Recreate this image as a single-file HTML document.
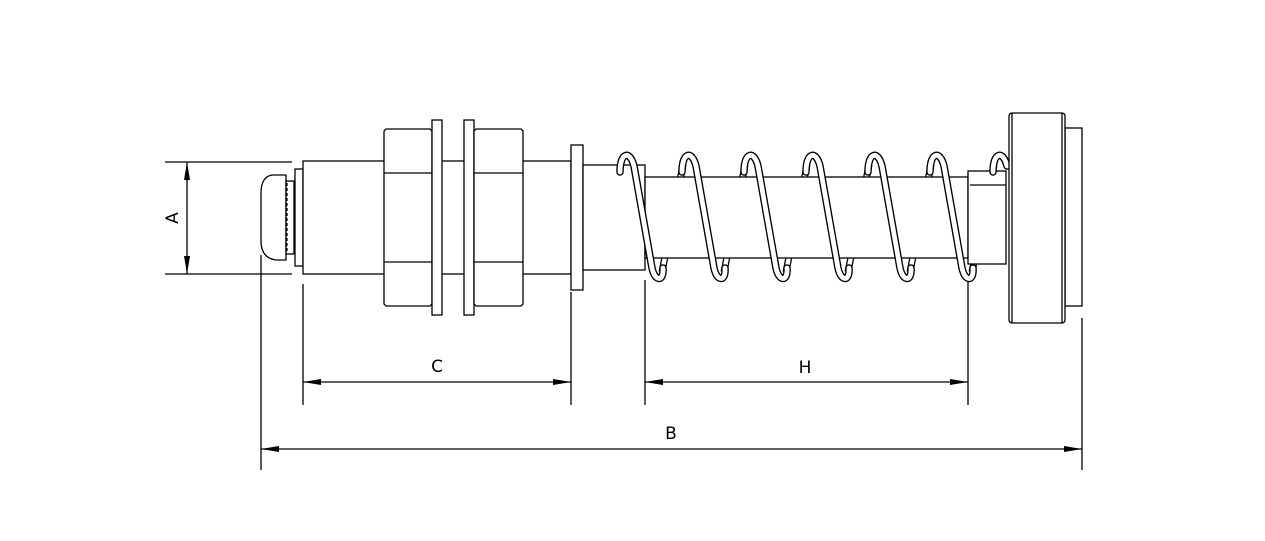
<!DOCTYPE html>
<html><head><meta charset="utf-8"><style>
html,body{margin:0;padding:0;background:#fff;}
svg{display:block}
text{font-family:"DejaVu Sans","Liberation Sans",sans-serif;font-size:17px;fill:#000}
</style></head><body>
<svg width="1265" height="541" viewBox="0 0 1265 541" xmlns="http://www.w3.org/2000/svg">
<defs>
<marker id="ar" viewBox="0 0 18 6" refX="18" refY="3" markerWidth="18" markerHeight="6" markerUnits="userSpaceOnUse" orient="auto-start-reverse">
<path d="M0,0 L18,3 L0,6 z" fill="#000"/></marker>
<g id="coilback">
<path d="M0,0 L20,-100" fill="none"/>
</g>
</defs>
<g fill="#fff" stroke="#000" stroke-width="1.3">
<!-- extension lines -->
<line x1="165" y1="162" x2="292" y2="162"/>
<line x1="165" y1="274" x2="292" y2="274"/>
<line x1="261" y1="255" x2="261" y2="470"/>
<line x1="303" y1="284" x2="303" y2="405"/>
<line x1="571" y1="292" x2="571" y2="405"/>
<line x1="645" y1="280" x2="645" y2="405"/>
<line x1="968" y1="280" x2="968" y2="405"/>
<line x1="1082" y1="318" x2="1082" y2="470"/>
<!-- cap -->
<path d="M286,175 L272,175 Q261,177 261,193 L261,241 Q261,258 276,260 L286,260 Z" />
<rect x="286" y="181" width="8" height="73"/>
<line x1="287" y1="183" x2="287" y2="252" stroke-dasharray="3,2"/>
<rect x="295" y="169" width="8" height="97"/>
<rect x="303" y="161" width="268" height="113"/>
<!-- nut1 -->
<path d="M386,129 L430,129 L432,131 L432,304 L430,306 L386,306 L384,304 L384,131 Z"/>
<line x1="384" y1="173" x2="432" y2="173"/><line x1="384" y1="262" x2="432" y2="262"/>
<rect x="432" y="120" width="10" height="195"/>
<rect x="464" y="120" width="10" height="195"/>
<path d="M476,129 L521,129 L523,131 L523,304 L521,306 L476,306 L474,304 L474,131 Z"/>
<line x1="474" y1="173" x2="523" y2="173"/><line x1="474" y1="262" x2="523" y2="262"/>
<rect x="571" y="145" width="12" height="145"/>
<rect x="583" y="165" width="62" height="105"/>
</g>
<!-- back spring strands -->
<g fill="none">
<g stroke="#000" stroke-width="7">
<path d="M662,272 L683,165"/><path d="M724,272 L745,165"/><path d="M786,272 L807,165"/><path d="M848,272 L869,165"/><path d="M910,272 L931,165"/><path d="M972,272 L994,165"/>
</g>
<g stroke="#fff" stroke-width="4.4">
<path d="M662,272 L683,165"/><path d="M724,272 L745,165"/><path d="M786,272 L807,165"/><path d="M848,272 L869,165"/><path d="M910,272 L931,165"/><path d="M972,272 L994,165"/>
</g>
</g>
<g fill="#fff" stroke="#000" stroke-width="1.3">
<rect x="645" y="177" width="323" height="81"/>
<rect x="968" y="171" width="38" height="93"/>
<line x1="970" y1="185" x2="1006" y2="185"/>
</g>
<!-- front spring strands -->
<g fill="none" stroke-linecap="round">
<g stroke="#000" stroke-width="7.5" id="fs">
<path d="M620,172 C620,152 630,150 634,166 L652,268 C655,282 664,282 663,268"/>
<path d="M682,172 C682,152 692,150 696,166 L714,268 C717,282 726,282 725,268"/>
<path d="M744,172 C744,152 754,150 758,166 L776,268 C779,282 788,282 787,268"/>
<path d="M806,172 C806,152 816,150 820,166 L838,268 C841,282 850,282 849,268"/>
<path d="M868,172 C868,152 878,150 882,166 L900,268 C903,282 912,282 911,268"/>
<path d="M930,172 C930,152 940,150 944,166 L962,268 C965,282 974,282 973,268"/>
<path d="M993,172 C993,152 1003,150 1007,166"/>
</g>
<g stroke="#fff" stroke-width="4.8">
<path d="M620,172 C620,152 630,150 634,166 L652,268 C655,282 664,282 663,268"/>
<path d="M682,172 C682,152 692,150 696,166 L714,268 C717,282 726,282 725,268"/>
<path d="M744,172 C744,152 754,150 758,166 L776,268 C779,282 788,282 787,268"/>
<path d="M806,172 C806,152 816,150 820,166 L838,268 C841,282 850,282 849,268"/>
<path d="M868,172 C868,152 878,150 882,166 L900,268 C903,282 912,282 911,268"/>
<path d="M930,172 C930,152 940,150 944,166 L962,268 C965,282 974,282 973,268"/>
<path d="M993,172 C993,152 1003,150 1007,166"/>
</g>
</g>
<g fill="#fff" stroke="#000" stroke-width="1.3">
<rect x="1065" y="128" width="17" height="178"/>
<rect x="1009" y="113" width="56" height="210" rx="3"/>
<line x1="1012" y1="113" x2="1012" y2="323"/><line x1="1062" y1="113" x2="1062" y2="323"/>
</g>
<!-- dimensions -->
<g stroke="#000" stroke-width="1.3">
<line x1="187" y1="162" x2="187" y2="274" marker-start="url(#ar)" marker-end="url(#ar)"/>
<line x1="303" y1="382" x2="571" y2="382" marker-start="url(#ar)" marker-end="url(#ar)"/>
<line x1="645" y1="382" x2="968" y2="382" marker-start="url(#ar)" marker-end="url(#ar)"/>
<line x1="261" y1="449" x2="1082" y2="449" marker-start="url(#ar)" marker-end="url(#ar)"/>
</g>
<text x="437" y="372" text-anchor="middle">C</text>
<text x="805" y="373" text-anchor="middle">H</text>
<text x="671" y="439" text-anchor="middle">B</text>
<text x="0" y="0" text-anchor="middle" transform="translate(178,218) rotate(-90)">A</text>
</svg>
</body></html>
